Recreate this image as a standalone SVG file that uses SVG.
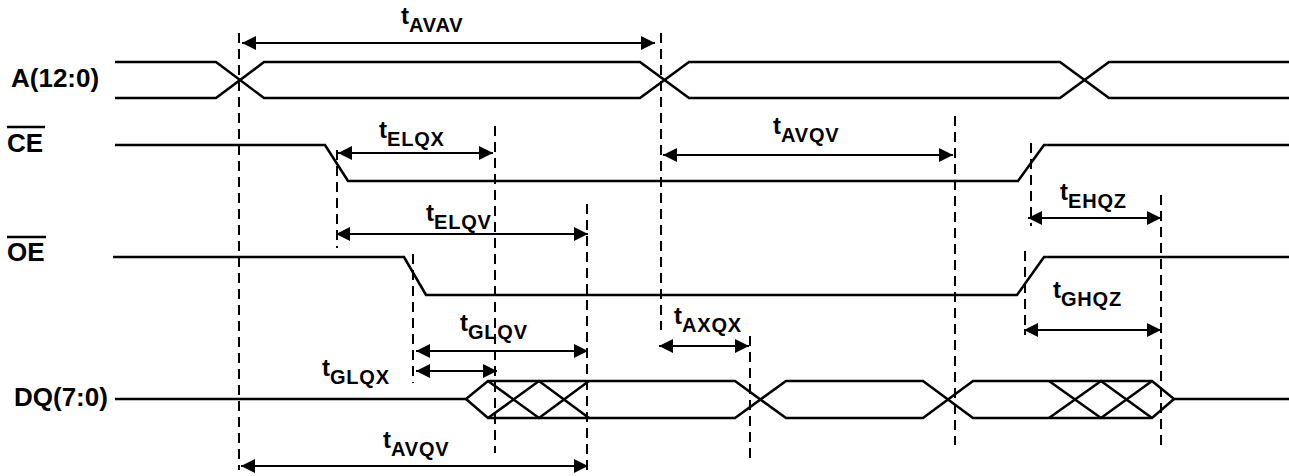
<svg xmlns="http://www.w3.org/2000/svg" width="1289" height="476" viewBox="0 0 1289 476">
<style>
.sig{fill:none;stroke:#000;stroke-width:2.6;stroke-linejoin:miter}
.dash{fill:none;stroke:#000;stroke-width:2;stroke-dasharray:10 6}
.arr{fill:none;stroke:#000;stroke-width:2.2;marker-start:url(#ah);marker-end:url(#ah)}
.lbl{font-family:"Liberation Sans",Arial,Helvetica,sans-serif;font-weight:bold;font-size:26px;fill:#000}
.t{font-family:"Liberation Sans",Arial,Helvetica,sans-serif;font-weight:bold;font-size:24px;fill:#000}
.s{font-size:20px;letter-spacing:0.8px}
.ov{stroke:#000;stroke-width:2.5}
</style>
<defs>
<marker id="ah" viewBox="0 0 14 14" refX="14" refY="7" markerWidth="14" markerHeight="14" markerUnits="userSpaceOnUse" orient="auto-start-reverse">
<path d="M0,0 L14,7 L0,14 Z" fill="#000"/>
</marker>
</defs>
<rect width="1289" height="476" fill="#fff"/>

<g id="sig-A">
<text class="lbl" x="11" y="87">A(12:0)</text>
<path class="sig" d="M115,62 H216 L264,98 H640 L689,62 H1060 L1109,98 H1289"/>
<path class="sig" d="M115,98 H216 L264,62 H640 L689,98 H1060 L1109,62 H1289"/>
</g>
<g id="sig-CE">
<text class="lbl" x="7" y="152">CE</text>
<line class="ov" x1="7" y1="127" x2="45" y2="127"/>
<path class="sig" d="M115,145 H325 L348,181 H1018 L1044,145 H1289"/>
</g>
<g id="sig-OE">
<text class="lbl" x="7" y="261">OE</text>
<line class="ov" x1="7" y1="237" x2="46" y2="237"/>
<path class="sig" d="M113,257 H404 L426,295 H1017 L1044,257 H1289"/>
</g>
<g id="sig-DQ">
<text class="lbl" x="14" y="406">DQ(7:0)</text>
<path class="sig" d="M115,399 H466 L488,381 H735 L786,418 H923 L973,381 H1152 L1174,399 H1289"/>
<path class="sig" d="M466,399 L488,418 H735 L786,381 H923 L973,418 H1152 L1174,399"/>
<path class="sig" d="M488,381 L539,418 L589,381 M488,418 L539,381 L589,418"/>
<path class="sig" d="M1049,381 L1101,418 L1152,381 M1049,418 L1101,381 L1152,418"/>
</g>

<g id="guides">
<line class="dash" x1="239" y1="33" x2="239" y2="470"/>
<line class="dash" x1="661" y1="33" x2="661" y2="330"/>
<line class="dash" x1="495" y1="126" x2="495" y2="453"/>
<line class="dash" x1="587" y1="204" x2="587" y2="470"/>
<line class="dash" x1="337" y1="150" x2="337" y2="248"/>
<line class="dash" x1="413" y1="254" x2="413" y2="383"/>
<line class="dash" x1="955" y1="116" x2="955" y2="445"/>
<line class="dash" x1="1031" y1="143" x2="1031" y2="226"/>
<line class="dash" x1="1025" y1="251" x2="1025" y2="335"/>
<line class="dash" x1="1161" y1="195" x2="1161" y2="445"/>
<line class="dash" x1="750" y1="336" x2="750" y2="461"/>
</g>

<g id="connectors">
<line class="arr" x1="242" y1="43" x2="655" y2="43"/>
<line class="arr" x1="338" y1="153" x2="493" y2="153"/>
<line class="arr" x1="663" y1="155" x2="953" y2="155"/>
<line class="arr" x1="336" y1="234" x2="588" y2="234"/>
<line class="arr" x1="1028" y1="218" x2="1161" y2="218"/>
<line class="arr" x1="1024" y1="330" x2="1161" y2="330"/>
<line class="arr" x1="416" y1="351" x2="588" y2="351"/>
<line class="arr" x1="416" y1="371" x2="497" y2="371"/>
<line class="arr" x1="659" y1="346" x2="749" y2="346"/>
<line class="arr" x1="241" y1="466" x2="588" y2="466"/>
</g>

<g id="timing-labels">
<text class="t" x="401" y="24">t<tspan class="s" dy="8">AVAV</tspan></text>
<text class="t" x="379" y="138">t<tspan class="s" dy="8">ELQX</tspan></text>
<text class="t" x="773" y="134">t<tspan class="s" dy="8">AVQV</tspan></text>
<text class="t" x="426" y="221">t<tspan class="s" dy="8">ELQV</tspan></text>
<text class="t" x="1060" y="200">t<tspan class="s" dy="8">EHQZ</tspan></text>
<text class="t" x="1053" y="298">t<tspan class="s" dy="8">GHQZ</tspan></text>
<text class="t" x="460" y="331">t<tspan class="s" dy="8">GLQV</tspan></text>
<text class="t" x="674" y="324">t<tspan class="s" dy="8">AXQX</tspan></text>
<text class="t" x="322" y="376">t<tspan class="s" dy="8">GLQX</tspan></text>
<text class="t" x="383" y="448">t<tspan class="s" dy="8">AVQV</tspan></text>
</g>
</svg>
